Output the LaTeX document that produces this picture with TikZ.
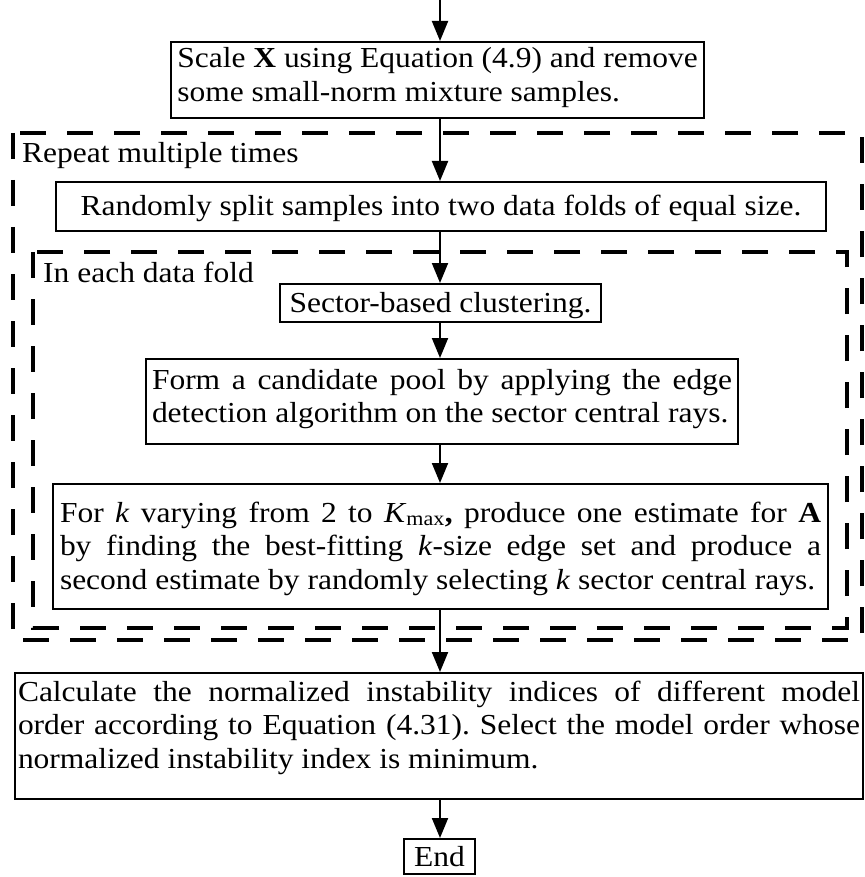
\documentclass[tikz,border=0pt]{standalone}
\usepackage{fontspec}
\setmainfont{Liberation Serif}[FakeStretch=1.086]
\usetikzlibrary{arrows.meta}
\setlength{\parindent}{0pt}
% invisible struts fixing the first-line height and last-line depth of a box
\newcommand\topst[1]{\rule{0pt}{#1pt}}
\newcommand\botst[1]{\rule[-#1pt]{0pt}{#1pt}}
\begin{document}
\frenchspacing
\begin{tikzpicture}[x=1pt,y=-1pt,
  box/.style={draw, line width=2pt, inner ysep=0pt, inner xsep=6pt,
              font=\fontsize{29}{33.5}\selectfont},
  flow/.style={line width=2pt, -{Triangle[length=20pt,width=16pt]}},
  dashbox/.style={line width=3.5pt, dash pattern=on 26pt off 21pt},
  tag/.style={anchor=base west, inner sep=0pt, font=\fontsize{29}{33.5}\selectfont}]
\useasboundingbox (0,0) rectangle (864,877);

% loop containers
\draw[dashbox] (13,133) rectangle (862,640);
\draw[dashbox] (33,252) rectangle (847,628);
\node[tag] (rep) at (22,163) {Repeat multiple times};
\node[tag] (fold) at (43,282) {In each data fold};

% process steps
\node[box, align=left, minimum width=531pt, minimum height=76pt] (b1) at (437.5,80)
  {\topst{26}Scale \textbf{X} using Equation (4.9) and remove\\some small-norm mixture samples.\botst{16.5}};
\node[box, minimum width=770pt, minimum height=49pt] (b2) at (441,206.5)
  {\topst{33}Randomly split samples into two data folds of equal size.\botst{16}};
\node[box, minimum width=321pt, minimum height=38pt] (b3) at (440.5,303)
  {\topst{28}Sector-based clustering.\botst{10}};
\node[box, text width=580pt, align=justify, minimum height=85pt] (b4) at (442,401.5)
  {\topst{30}Form a candidate pool by applying the edge\linebreak
   \mbox{detection algorithm on the sector central rays.}\botst{21.5}};
\node[box, inner xsep=7pt, text width=761pt, align=justify, minimum height=125pt] (b5) at (440.5,546.5)
  {\topst{38}For \textit{k} varying from 2 to \textit{K}\textsubscript{max}\textbf{,} produce one estimate for \textbf{A}\linebreak
   by finding the best-fitting \textit{k}-size edge set and produce a\linebreak
   \mbox{second estimate by randomly selecting \textit{k} sector central rays.}\botst{20}};
\node[box, inner xsep=3pt, text width=842pt, align=justify, minimum height=126pt] (b6) at (439,736)
  {\topst{28}Calculate the normalized instability indices of different model\linebreak
   order according to Equation (4.31). Select the model order whose\linebreak
   \mbox{normalized instability index is minimum.}\botst{31}};
\node[box, inner xsep=0pt, minimum width=71pt, minimum height=35pt] (end) at (439.5,856.5)
  {\topst{27}End\botst{8}};

% flow arrows along one vertical axis
\coordinate (ax) at (440,0);
\draw[flow] (ax) -- (b1.north -| ax);
\draw[flow] (b1.south -| ax) -- (b2.north -| ax);
\draw[flow] (b2.south -| ax) -- (b3.north -| ax);
\draw[flow] (b3.south -| ax) -- (b4.north -| ax);
\draw[flow] (b4.south -| ax) -- (b5.north -| ax);
\draw[flow] (b5.south -| ax) -- (b6.north -| ax);
\draw[flow] (b6.south -| ax) -- (end.north -| ax);
\end{tikzpicture}
\end{document}
